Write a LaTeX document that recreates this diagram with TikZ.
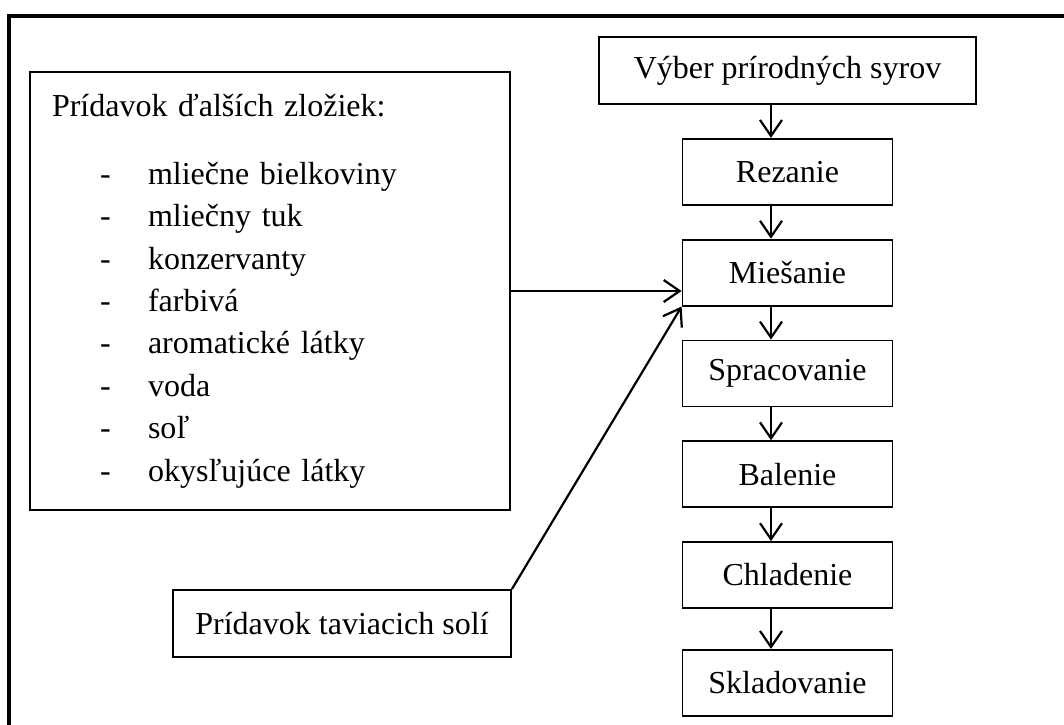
\documentclass[tikz,border=0pt]{standalone}
\usepackage{fontspec}
\setmainfont{Liberation Serif}
\usetikzlibrary{
arrows.meta,
positioning
}
\tikzset{
procblock/.style={draw, line width=0.9pt, align=center, inner sep=0pt,
  minimum height=33pt, minimum width=105pt, font=\fontsize{16}{19}\selectfont},
procwide/.style={procblock, minimum height=33.5pt, minimum width=188.5pt},
procside/.style={procblock, minimum height=33.5pt, minimum width=169pt},
proclist/.style={draw, line width=0.9pt, align=left, inner sep=11pt,
  text width=218pt, minimum height=216pt, font=\fontsize{16}{21.2}\selectfont},
procarrow/.style={-{Straight Barb[length=8pt, width=11pt, line width=1.1pt]}, line width=1.1pt},
procframe/.style={line width=2pt}
}
\newcommand{\procitem}[1]{\makebox[48pt][l]{\hspace{24pt}-}#1}

\begin{document}
\begin{tikzpicture}[x=0.5pt, y=-0.5pt, node distance=16.5pt]
\useasboundingbox (0,0) rectangle (1064,724);
\draw[procframe] (9,15.5) rectangle (1100,760);

\node[procwide] (vyber) at (787.5,70.5) {Výber prírodných syrov};
\node[procblock, below=of vyber] (rez) {Rezanie};
\node[procblock, below=of rez] (mies) {Miešanie};
\node[procblock, below=of mies] (sprac) {Spracovanie};
\node[procblock, below=of sprac] (bal) {Balenie};
\node[procblock, below=of bal] (chlad) {Chladenie};
\node[procblock, below=20pt of chlad] (sklad) {Skladovanie};

\node[proclist] (extra) at (270,291) {Prídavok ďalších zložiek:\\[12.8pt]
\procitem{mliečne bielkoviny}\\
\procitem{mliečny tuk}\\
\procitem{konzervanty}\\
\procitem{farbivá}\\
\procitem{aromatické látky}\\
\procitem{voda}\\
\procitem{soľ}\\
\procitem{okysľujúce látky}};
\node[procside] (tav) at (342,623.5) {Prídavok taviacich solí};

\coordinate (ax) at (771,0);
\draw[procarrow] (vyber.south -| ax) -- (rez.north -| ax);
\draw[procarrow] (rez.south -| ax) -- (mies.north -| ax);
\draw[procarrow] (mies.south -| ax) -- (sprac.north -| ax);
\draw[procarrow] (sprac.south -| ax) -- (bal.north -| ax);
\draw[procarrow] (bal.south -| ax) -- (chlad.north -| ax);
\draw[procarrow] (chlad.south -| ax) -- (sklad.north -| ax);
\draw[procarrow] (extra.east) -- (extra.east -| mies.west);
\draw[procarrow] (tav.north east) -- (mies.south west);
\end{tikzpicture}
\end{document}
